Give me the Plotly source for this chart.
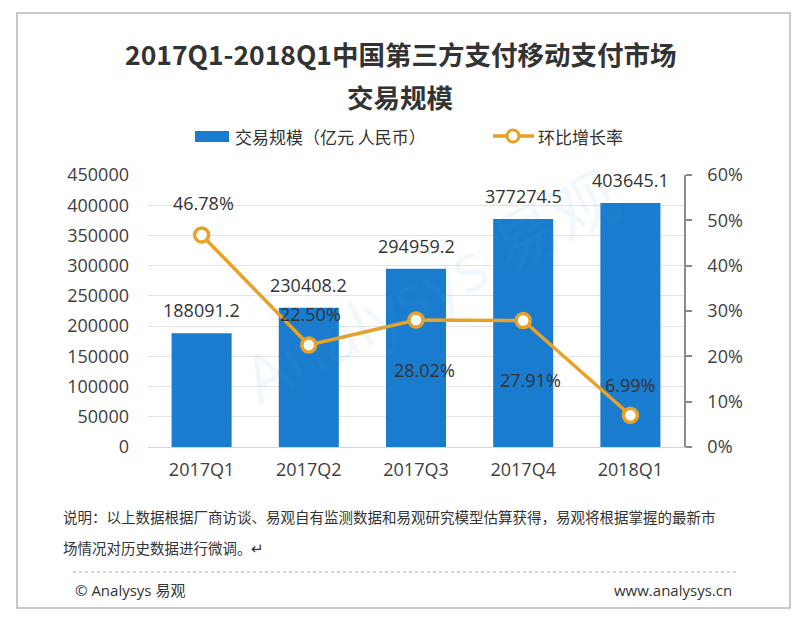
import plotly.graph_objects as go

# ---------------- data ----------------
categories = ["2017Q1", "2017Q2", "2017Q3", "2017Q4", "2018Q1"]
volume = [188091.2, 230408.2, 294959.2, 377274.5, 403645.1]   # 交易规模（亿元 人民币）
growth = [46.78, 22.50, 28.02, 27.91, 6.99]                    # 环比增长率 (%)
left_ticks = [0, 50000, 100000, 150000, 200000, 250000, 300000, 350000, 400000, 450000]
right_ticks = [0, 10, 20, 30, 40, 50, 60]

title_line1 = "2017Q1-2018Q1中国第三方支付移动支付市场"
title_line2 = "交易规模"
bar_name = "交易规模（亿元 人民币）"
line_name = "环比增长率"
note_line1 = "说明：以上数据根据厂商访谈、易观自有监测数据和易观研究模型估算获得，易观将根据掌握的最新市"
note_line2 = "场情况对历史数据进行微调。↵"
brand_left = "© Analysys 易观"
brand_right = "www.analysys.cn"

# ---------------- style ----------------
OFF = 8                       # page body margin
W, H = 800 - OFF, 620 - OFF
L, R, T, B = 148, 684, 175, 447   # plot area in page pixels
FONT = "Open Sans, Noto Sans CJK SC, sans-serif"
CJK = "Noto Sans CJK SC, sans-serif"
TXT = "#333333"
BAR_C = "#1a7ccf"
LINE_C = "#e9a227"
rate_label_shift = [32, 31, -50, -60, 30]
rate_label_dx = [2, 2, 8, 7, 0]
bar_label_shift = 23


def px(x):
    return (x - L) / (R - L)


def py(y):
    return (B - y) / (B - T)


def text_ann(x, y, text, size, family=CJK, xanchor="center", color=TXT):
    return dict(x=px(x), y=py(y), xref="paper", yref="paper", text=text, showarrow=False,
                xanchor=xanchor, yanchor="middle", font=dict(family=family, size=size, color=color))


fig = go.Figure()
fig.add_trace(go.Bar(
    x=categories, y=volume, name=bar_name,
    marker=dict(color=BAR_C, line=dict(width=0)),
    yaxis="y", showlegend=False, hoverinfo="x+y",
))
fig.add_trace(go.Scatter(
    x=categories, y=growth, name=line_name, yaxis="y2",
    mode="lines+markers",
    line=dict(color=LINE_C, width=3.5),
    marker=dict(size=14, color="white", line=dict(color=LINE_C, width=3.5)),
    showlegend=False,
))

ann = []
# watermark
wm = text_ann(430, 285, "Analysys 易观", 66, family=FONT, color="rgba(70,160,225,0.08)")
wm["textangle"] = -28
ann.append(wm)

# bar value labels
for c, v in zip(categories, volume):
    ann.append(dict(x=c, y=v, xref="x", yref="y", text=f"{v:.1f}", showarrow=False,
                    xanchor="center", yanchor="middle",
                    yshift=bar_label_shift, font=dict(family=FONT, size=18, color=TXT)))
# growth labels
for c, g, s, dx in zip(categories, growth, rate_label_shift, rate_label_dx):
    ann.append(dict(x=c, y=g, xref="x", yref="y2", text=f"{g:.2f}%", showarrow=False,
                    xanchor="center", yanchor="middle",
                    yshift=s, xshift=dx, font=dict(family=FONT, size=18, color=TXT)))

# titles
ann.append(text_ann(400, 53, f"<b>{title_line1}</b>", 26.5))
ann.append(text_ann(400, 97, f"<b>{title_line2}</b>", 26.5))
# legend texts
ann.append(text_ann(233, 136, bar_name, 17, xanchor="left"))
ann.append(text_ann(536, 136, line_name, 17, xanchor="left"))
# notes
ann.append(text_ann(61, 516, note_line1, 14.5, xanchor="left"))
ann.append(text_ann(61, 547, note_line2, 14.5, xanchor="left"))
ann.append(text_ann(73, 590, brand_left, 15, family=FONT, xanchor="left"))
ann.append(text_ann(734, 590, brand_right, 15, family=FONT, xanchor="right"))

shapes = [
    # outer frame
    dict(type="rect", xref="paper", yref="paper", x0=px(17), x1=px(790), y0=py(13), y1=py(608),
         line=dict(color="#b8b8b8", width=1.5), fillcolor="rgba(0,0,0,0)", layer="below"),
    # legend bar symbol
    dict(type="rect", xref="paper", yref="paper", x0=px(195), x1=px(229), y0=py(131), y1=py(142),
         line=dict(width=0), fillcolor=BAR_C),
    # legend line symbol
    dict(type="line", xref="paper", yref="paper", x0=px(493), x1=px(534), y0=py(136), y1=py(136),
         line=dict(color=LINE_C, width=3.5)),
    dict(type="circle", xref="paper", yref="paper", x0=px(507), x1=px(519), y0=py(130), y1=py(142),
         line=dict(color=LINE_C, width=3), fillcolor="white"),
    # dotted separator
    dict(type="line", xref="paper", yref="paper", x0=px(73), x1=px(736), y0=py(572), y1=py(572),
         line=dict(color="#aaaaaa", width=1, dash="dot")),
]

fig.update_layout(
    width=W, height=H,
    margin=dict(l=L - OFF, r=800 - R, t=T - OFF, b=620 - B, pad=0),
    paper_bgcolor="white", plot_bgcolor="white",
    bargap=0.44,
    showlegend=False,
    annotations=ann,
    shapes=shapes,
    xaxis=dict(
        type="category", showgrid=False, showline=True, linecolor="#d6d6d6", linewidth=1,
        ticks="", tickfont=dict(family=FONT, size=18, color="#404040"),
        ticklabelstandoff=6, fixedrange=True,
    ),
    yaxis=dict(
        range=[0, 450000], tickvals=left_ticks, ticktext=[str(v) for v in left_ticks],
        showgrid=True, gridcolor="#e4e4e4", gridwidth=1, zeroline=False, showline=False,
        ticks="", tickfont=dict(family=FONT, size=18, color="#404040"),
        ticklabelstandoff=18, fixedrange=True,
    ),
    yaxis2=dict(
        overlaying="y", side="right", range=[0, 60], tickvals=right_ticks,
        ticktext=[f"{v}%" for v in right_ticks],
        showgrid=False, zeroline=False, showline=True, linecolor="#8a8a8a", linewidth=1.5,
        ticks="outside", ticklen=6, tickcolor="#8a8a8a", tickwidth=1.5,
        tickfont=dict(family=FONT, size=18, color="#404040"),
        ticklabelstandoff=12, fixedrange=True,
    ),
)

fig.write_html("out.html")
